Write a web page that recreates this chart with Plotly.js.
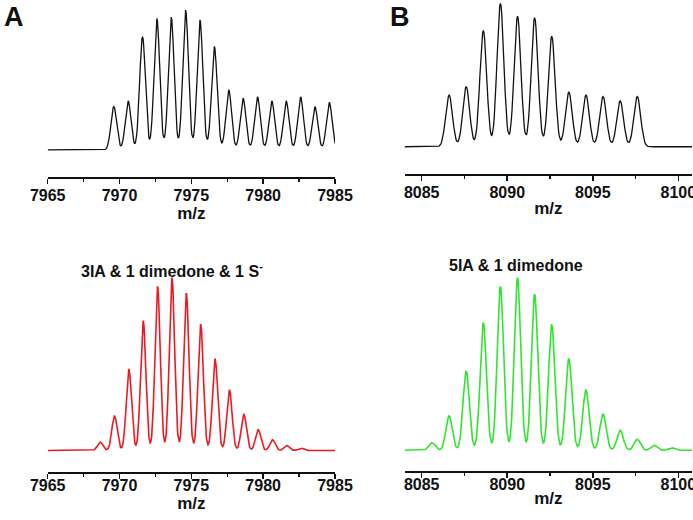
<!DOCTYPE html>
<html>
<head>
<meta charset="utf-8">
<script src="https://cdn.plot.ly/plotly-3.0.1.min.js"></script>
<style>html,body{margin:0;padding:0;background:#fff;}#chart{width:693px;height:520px;}</style>
</head>
<body>
<div id="chart"></div>
<script>
// Panel A (top, observed): peak centres (m/z) and relative heights
const obsA_mz = [7969.6, 7970.6, 7971.6, 7972.6, 7973.6, 7974.6, 7975.6, 7976.6, 7977.6, 7978.6, 7979.6, 7980.6, 7981.6, 7982.6, 7983.6, 7984.6];
const obsA_int = [0.31, 0.35, 0.81, 0.94, 0.95, 1.0, 0.93, 0.74, 0.43, 0.37, 0.38, 0.35, 0.35, 0.38, 0.31, 0.34];
const obsA_span = [7965, 7985];

// Panel B (top, observed)
const obsB_mz = [8086.6, 8087.6, 8088.6, 8089.6, 8090.6, 8091.6, 8092.6, 8093.6, 8094.6, 8095.6, 8096.6, 8097.6];
const obsB_int = [0.36, 0.42, 0.81, 1.0, 0.91, 0.90, 0.77, 0.38, 0.36, 0.35, 0.32, 0.35];
const obsB_span = [8084, 8100.8];

// Panel A (bottom, simulated "3IA & 1 dimedone & 1 S")
const simA_mz = [7968.65, 7969.65, 7970.65, 7971.65, 7972.65, 7973.65, 7974.65, 7975.65, 7976.65, 7977.65, 7978.65, 7979.65, 7980.65, 7981.65, 7982.65];
const simA_int = [0.048, 0.20, 0.47, 0.75, 0.95, 1.0, 0.91, 0.73, 0.53, 0.35, 0.21, 0.12, 0.062, 0.029, 0.014];
const simA_span = [7965, 7985];

// Panel B (bottom, simulated "5IA & 1 dimedone")
const simB_mz = [8085.6, 8086.6, 8087.6, 8088.6, 8089.6, 8090.6, 8091.6, 8092.6, 8093.6, 8094.6, 8095.6, 8096.6, 8097.6, 8098.6, 8099.6];
const simB_int = [0.044, 0.20, 0.46, 0.74, 0.95, 1.0, 0.905, 0.73, 0.53, 0.35, 0.21, 0.116, 0.064, 0.029, 0.015];
const simB_span = [8084, 8100.8];

const labels = ["3IA &amp; 1 dimedone &amp; 1 S<sup>-</sup>", "5IA &amp; 1 dimedone"];
const axisTitle = "m/z";

// Build a line profile from a peak list (each peak drawn with a gaussian shape)
function profile(mz, inten, span, sigma, step) {
  const xs = [], ys = [];
  for (let x = span[0]; x <= span[1] + 1e-9; x += step) {
    let y = 0;
    for (let i = 0; i < mz.length; i++) {
      const d = (x - mz[i]) / sigma;
      if (Math.abs(d) < 6) y += inten[i] * Math.exp(-0.5 * d * d);
    }
    xs.push(+x.toFixed(4)); ys.push(y);
  }
  return {x: xs, y: ys};
}

const pA = profile(obsA_mz, obsA_int, obsA_span, 0.2, 0.04);
const pB = profile(obsB_mz, obsB_int, obsB_span, 0.2, 0.04);
const sA = profile(simA_mz, simA_int, simA_span, 0.185, 0.02);
const sB = profile(simB_mz, simB_int, simB_span, 0.185, 0.02);

const traces = [
  {x: pA.x, y: pA.y, xaxis: 'x', yaxis: 'y', mode: 'lines', line: {color: '#111', width: 1.3}, hoverinfo: 'skip'},
  {x: pB.x, y: pB.y, xaxis: 'x2', yaxis: 'y2', mode: 'lines', line: {color: '#111', width: 1.3}, hoverinfo: 'skip'},
  {x: sA.x, y: sA.y, xaxis: 'x3', yaxis: 'y3', mode: 'lines', line: {color: '#ea1a22', width: 1.6}, hoverinfo: 'skip'},
  {x: sB.x, y: sB.y, xaxis: 'x4', yaxis: 'y4', mode: 'lines', line: {color: '#2fe62f', width: 1.6}, hoverinfo: 'skip'}
];

const H = 520, W = 693;
function dom(pxLo, pxHi, total) { return [pxLo / total, pxHi / total]; }
function ydom(topPx, botPx) { return [(H - botPx) / H, (H - topPx) / H]; }

const FF = 'Liberation Sans, Arial, sans-serif';
const tickFont = {family: FF, size: 16, color: '#111', weight: 'bold'};
function xax(domain, range, anchor, standoff, lblOff) {
  return {
    domain: domain, range: range, anchor: anchor,
    showline: true, linecolor: '#111', linewidth: 2,
    showgrid: false, zeroline: false,
    ticks: 'outside', ticklen: 5, tickwidth: 1.5, tickcolor: '#111',
    tick0: 7965, dtick: 5,
    tickfont: tickFont,
    ticklabeloverflow: 'allow',
    ticklabelstandoff: lblOff,
    minor: {ticks: 'outside', ticklen: 3, tickwidth: 1.2, tickcolor: '#111', dtick: 2.5, showgrid: false},
    title: {text: '<b>' + axisTitle + '</b>', font: {family: FF, size: 17, color: '#111'}, standoff: standoff}
  };
}
function yax(domain, range, anchor) {
  return {domain: domain, range: range, anchor: anchor, visible: false, showgrid: false, zeroline: false, fixedrange: true};
}

const layout = {
  width: W, height: H,
  margin: {l: 0, r: 0, t: 0, b: 0},
  paper_bgcolor: '#fff', plot_bgcolor: 'rgba(0,0,0,0)',
  showlegend: false,
  xaxis: xax(dom(47.7, 335, W), [7965, 7985], 'y', 2, -2),
  yaxis: yax(ydom(0, 177), [-0.194, 1.072], 'x'),
  xaxis2: Object.assign(xax(dom(404.6, 692, W), obsB_span, 'y2', 2, -2), {tick0: 8085}),
  yaxis2: yax(ydom(0, 174), [-0.19, 1.023], 'x2'),
  xaxis3: xax(dom(47.7, 335, W), [7965, 7985], 'y3', 0, -7),
  yaxis3: yax(ydom(250, 472), [-0.125, 1.163], 'x3'),
  xaxis4: Object.assign(xax(dom(404.6, 692, W), simB_span, 'y4', 0, -7), {tick0: 8085}),
  yaxis4: yax(ydom(250, 471), [-0.12, 1.161], 'x4'),
  annotations: [
    {text: '<b>A</b>', xref: 'paper', yref: 'paper', x: 2 / W, y: 1, xanchor: 'left', yanchor: 'top', showarrow: false,
     font: {family: FF, size: 27, color: '#111'}},
    {text: '<b>B</b>', xref: 'paper', yref: 'paper', x: 388 / W, y: 1, xanchor: 'left', yanchor: 'top', showarrow: false,
     font: {family: FF, size: 27, color: '#111'}},
    {text: '<b>' + labels[0] + '</b>', xref: 'paper', yref: 'paper', x: 172 / W, y: 1 - 270 / H, xanchor: 'center', yanchor: 'middle', showarrow: false,
     font: {family: FF, size: 16, color: '#111'}},
    {text: '<b>' + labels[1] + '</b>', xref: 'paper', yref: 'paper', x: 516 / W, y: 1 - 265 / H, xanchor: 'center', yanchor: 'middle', showarrow: false,
     font: {family: FF, size: 16, color: '#111'}}
  ]
};

Plotly.newPlot('chart', traces, layout, {staticPlot: true, displayModeBar: false});
</script>
</body>
</html>
